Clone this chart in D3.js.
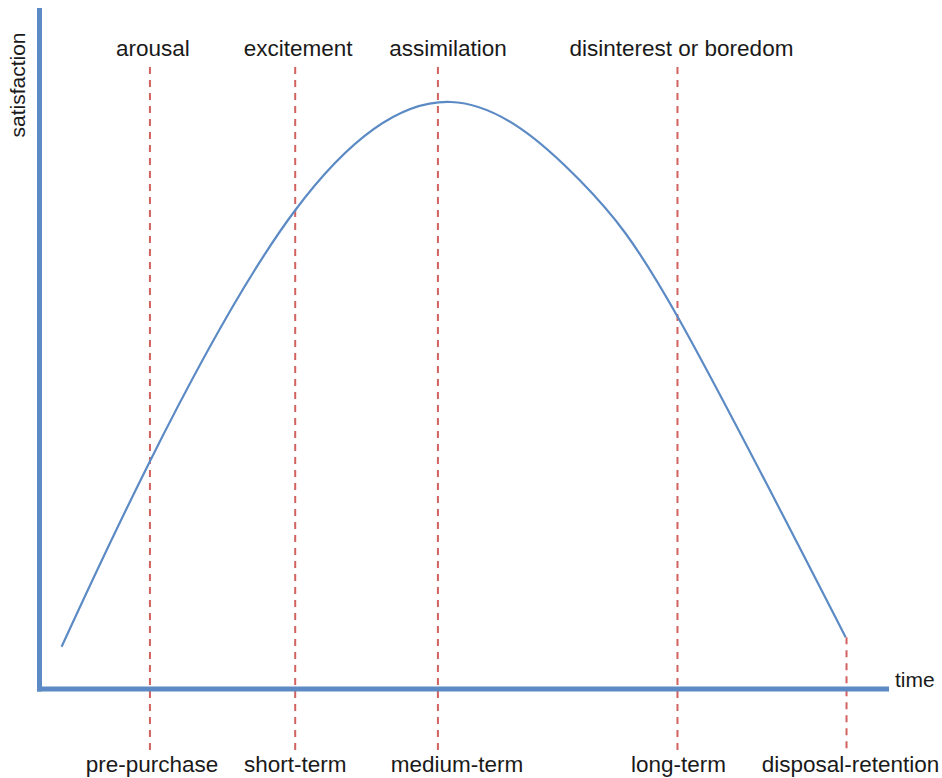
<!DOCTYPE html>
<html>
<head>
<meta charset="utf-8">
<script src="https://cdn.jsdelivr.net/npm/d3@7"></script>
<style>
  html, body { margin: 0; padding: 0; background: #fff; }
  svg { display: block; }
  text { font-family: "Liberation Sans", Arial, Helvetica, sans-serif; fill: #1a1a1a; }
</style>
</head>
<body>
<svg id="chart" width="942" height="778"></svg>
<script>
// ---- data ----
const stageTimes = [13, 30.1, 46.9, 75.1, 95];
const topLabels = ["arousal", "excitement", "assimilation", "disinterest or boredom", ""];
const bottomLabels = ["pre-purchase", "short-term", "medium-term", "long-term", "disposal-retention"];
const curveTime = [2.6, 12.9, 30.1, 48.4, 63.6, 75.1, 94.9];
const curveSatisfaction = [6.2, 33.2, 70.3, 86.2, 74.7, 54.7, 7.6];
const xAxisLabel = "time";
const yAxisLabel = "satisfaction";

// ---- layout ----
const svg = d3.select("#chart");
const x = d3.scaleLinear().domain([0, 100]).range([39.5, 889]);
const y = d3.scaleLinear().domain([0, 100]).range([689, 8]);

const blue = "#5b8ac4";
const red = "#d2625f";

const pts = curveTime.map((t, i) => ({ t, s: curveSatisfaction[i] }));
const endSat = curveSatisfaction[curveSatisfaction.length - 1];

// dashed stage lines
const topOffsets = [3, 3, 10, 4, 0];
const bottomOffsets = [2, 0, 19, 1, 4];
svg.append("g").selectAll("line").data(stageTimes).join("line")
  .attr("x1", d => x(d)).attr("x2", d => x(d))
  .attr("y1", (d, i) => i === stageTimes.length - 1 ? y(endSat) : 67)
  .attr("y2", 752)
  .attr("stroke", red).attr("stroke-width", 2)
  .attr("stroke-dasharray", "7,6");

// axes
svg.append("line")
  .attr("x1", x(0)).attr("x2", x(0)).attr("y1", y(100)).attr("y2", y(0) + 2.5)
  .attr("stroke", blue).attr("stroke-width", 5);
svg.append("line")
  .attr("x1", x(0) - 2.5).attr("x2", x(100)).attr("y1", y(0)).attr("y2", y(0))
  .attr("stroke", blue).attr("stroke-width", 5);

// curve
const line = d3.line().x(d => x(d.t)).y(d => y(d.s)).curve(d3.curveNatural);
svg.append("path").datum(pts)
  .attr("d", line)
  .attr("fill", "none").attr("stroke", blue).attr("stroke-width", 2.2);

// stage labels
svg.append("g").selectAll("text").data(topLabels).join("text")
  .attr("x", (d, i) => x(stageTimes[i]) + topOffsets[i])
  .attr("y", 56)
  .attr("text-anchor", "middle")
  .attr("font-size", 22.5)
  .text(d => d);
svg.append("g").selectAll("text").data(bottomLabels).join("text")
  .attr("x", (d, i) => x(stageTimes[i]) + bottomOffsets[i])
  .attr("y", 772)
  .attr("text-anchor", "middle")
  .attr("font-size", 22.5)
  .text(d => d);

// axis labels
svg.append("text")
  .attr("x", 895).attr("y", 687)
  .attr("font-size", 21)
  .text(xAxisLabel);
svg.append("text")
  .attr("transform", "translate(25,85) rotate(-90)")
  .attr("text-anchor", "middle")
  .attr("font-size", 21)
  .text(yAxisLabel);
</script>
</body>
</html>
